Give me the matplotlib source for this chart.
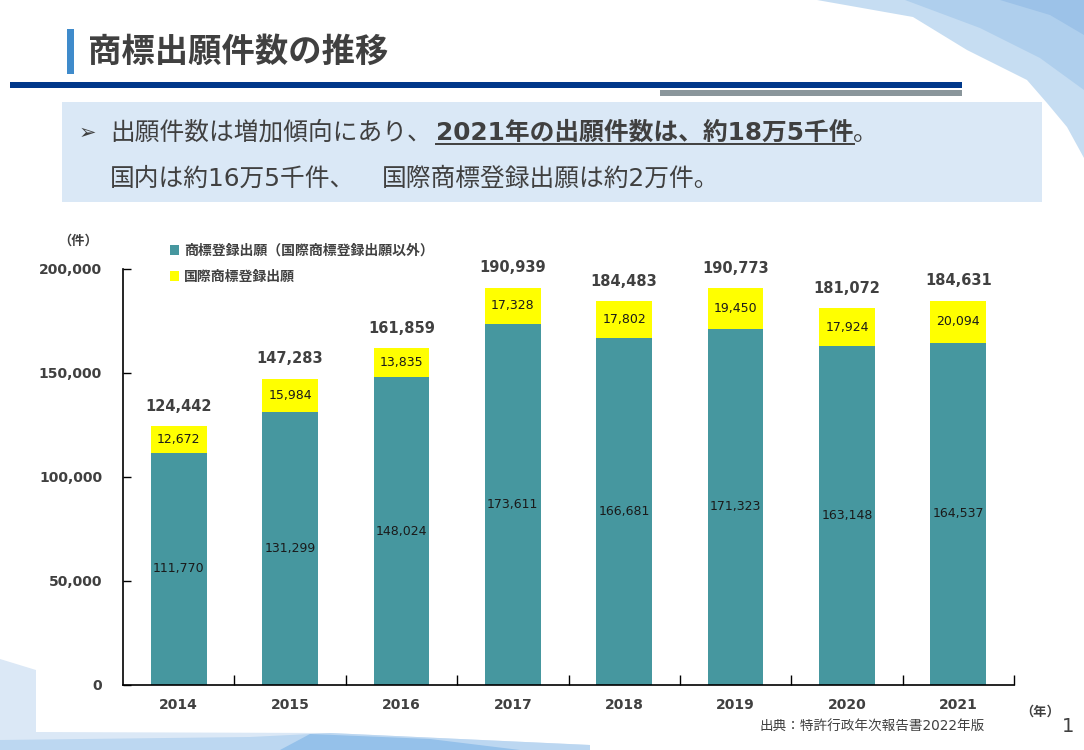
import matplotlib
matplotlib.use("Agg")
import matplotlib.pyplot as plt
from matplotlib.patches import Rectangle, Polygon
import numpy as np

plt.rcParams['font.family'] = ['DejaVu Sans', 'Noto Sans CJK JP']

# データ（特許行政年次報告書2022年版）
years = ['2014', '2015', '2016', '2017', '2018', '2019', '2020', '2021']
domestic = [111770, 131299, 148024, 173611, 166681, 171323, 163148, 164537]
madrid = [12672, 15984, 13835, 17328, 17802, 19450, 17924, 20094]
totals = [124442, 147283, 161859, 190939, 184483, 190773, 181072, 184631]
yticks = [0, 50000, 100000, 150000, 200000]
legend_labels = ['商標登録出願（国際商標登録出願以外）', '国際商標登録出願']

TEAL = '#46979f'
YELLOW = '#ffff00'
TXT = '#404040'

W, H = 1084, 750
fig = plt.figure(figsize=(W / 100, H / 100), dpi=100)

# 背景（ピクセル座標）
bg = fig.add_axes([0, 0, 1, 1])
bg.set_xlim(0, W)
bg.set_ylim(H, 0)
bg.axis('off')

# 右上の飾り
bg.add_patch(Polygon([(817, 0), (913, 17), (967, 50), (1027, 80), (1047, 103),
                      (1067, 127), (1084, 158), (1084, 0)], closed=True,
                     fc='#c6ddf2', ec='none'))
bg.add_patch(Polygon([(905, 0), (980, 28), (1040, 58), (1084, 90), (1084, 0)],
                     closed=True, fc='#afcfed', ec='none'))
bg.add_patch(Polygon([(1000, 0), (1050, 15), (1084, 35), (1084, 0)],
                     closed=True, fc='#9cc2e8', ec='none'))
# 左下の飾り
bg.add_patch(Polygon([(0, 659), (36, 670), (36, 732), (330, 733), (590, 745),
                      (590, 750), (0, 750)], closed=True, fc='#dbe8f6', ec='none'))
bg.add_patch(Polygon([(0, 740), (250, 737), (330, 733), (590, 745), (590, 750),
                      (0, 750)], closed=True, fc='#bcd7f1', ec='none'))
bg.add_patch(Polygon([(280, 750), (310, 734), (430, 739), (520, 750)],
                     closed=True, fc='#95c1ea', ec='none'))

# タイトル
bg.add_patch(Rectangle((67, 29), 7, 45, fc='#3f8bcb', ec='none'))
bg.text(88, 52, '商標出願件数の推移', fontsize=24, fontweight='bold',
        color=TXT, va='center', ha='left')
bg.add_patch(Rectangle((10, 82), 952, 6, fc='#00388a', ec='none'))
bg.add_patch(Rectangle((660, 90), 302, 6, fc='#8a969b', ec='none'))

# 要約ボックス
bg.add_patch(Rectangle((62, 102), 980, 100, fc='#dae8f6', ec='none'))
bg.text(79, 133, '➢', fontsize=15, color=TXT, va='center', ha='left')
bg.text(110, 133, '出願件数は増加傾向にあり、', fontsize=17.8, color=TXT,
        va='center', ha='left')
strong = bg.text(436, 133, '2021年の出願件数は、約18万5千件', fontsize=17.8,
                 fontweight='bold', color=TXT, va='center', ha='left')
bg.text(110, 179, '国内は約16万5千件、', fontsize=17.8, color=TXT,
        va='center', ha='left')
bg.text(382, 179, '国際商標登録出願は約2万件。', fontsize=17.8, color=TXT,
        va='center', ha='left')

# グラフ
ax = fig.add_axes([123 / W, 1 - 685 / H, (1014 - 123) / W, (685 - 269) / H])
ax.patch.set_alpha(0)
x = np.arange(len(years))
b1 = ax.bar(x, domestic, width=0.5, color=TEAL, label=legend_labels[0])
b2 = ax.bar(x, madrid, width=0.5, bottom=domestic, color=YELLOW,
            label=legend_labels[1])

for i in range(len(years)):
    ax.text(x[i], domestic[i] / 2, f'{domestic[i]:,}', ha='center',
            va='center', fontsize=9, color='#1a1a1a')
    ax.text(x[i], domestic[i] + madrid[i] / 2, f'{madrid[i]:,}', ha='center',
            va='center', fontsize=9, color='#1a1a1a')
    ax.annotate(f'{totals[i]:,}', (x[i], totals[i]), xytext=(0, 14.5),
                textcoords='offset points', ha='center', va='center',
                fontsize=10.5, fontweight='bold', color=TXT)

ax.set_xlim(-0.5, len(years) - 0.5)
ax.set_ylim(0, 200000)
ax.set_yticks(yticks)
ax.set_yticklabels([f'{v:,}' for v in yticks])
ax.set_xticks(x + 0.5)
ax.set_xticklabels([])
ax.set_xticks(x, minor=True)
ax.set_xticklabels(years, minor=True)
ax.tick_params(axis='y', direction='in', length=6, width=1, pad=15,
               labelsize=10, labelcolor=TXT)
ax.tick_params(axis='x', which='major', direction='in', length=7, width=1)
ax.tick_params(axis='x', which='minor', length=0, pad=9.5, labelsize=10,
               labelcolor=TXT)
for lab in ax.get_yticklabels() + ax.get_xticklabels(minor=True):
    lab.set_fontweight('bold')
ax.spines['right'].set_visible(False)
ax.spines['top'].set_visible(False)
ax.spines['left'].set_linewidth(1.2)
ax.spines['bottom'].set_linewidth(1.2)

ax.legend(handles=[b1, b2], loc='upper left', bbox_to_anchor=(163 / W, 1 - 237 / H),
          bbox_transform=fig.transFigure, frameon=False,
          prop={'size': 10, 'weight': 'bold'}, handlelength=0.65,
          handleheight=0.65, handletextpad=0.35, labelspacing=0.85,
          labelcolor=TXT, borderpad=0)

bg.text(78, 241, '（件）', fontsize=9.5, fontweight='bold', color=TXT,
        ha='center', va='center')
bg.text(1040, 712, '（年）', fontsize=9.5, fontweight='bold', color=TXT,
        ha='center', va='center')
bg.text(985, 727, '出典：特許行政年次報告書2022年版', fontsize=9.8, color=TXT,
        ha='right', va='center')
bg.text(1068, 727, '1', fontsize=14, color=TXT, ha='center', va='center')

# 下線と句点の位置合わせ
fig.canvas.draw()
bb = strong.get_window_extent().transformed(bg.transData.inverted())
x0, x1 = bb.x0, bb.x1
y_ul = max(bb.y0, bb.y1) - 1
bg.plot([x0, x1], [y_ul, y_ul], color=TXT, lw=1.4)
bg.text(x1, 133, '。', fontsize=17.8, color=TXT, va='center', ha='left')

fig.savefig('out.png', dpi=100)
